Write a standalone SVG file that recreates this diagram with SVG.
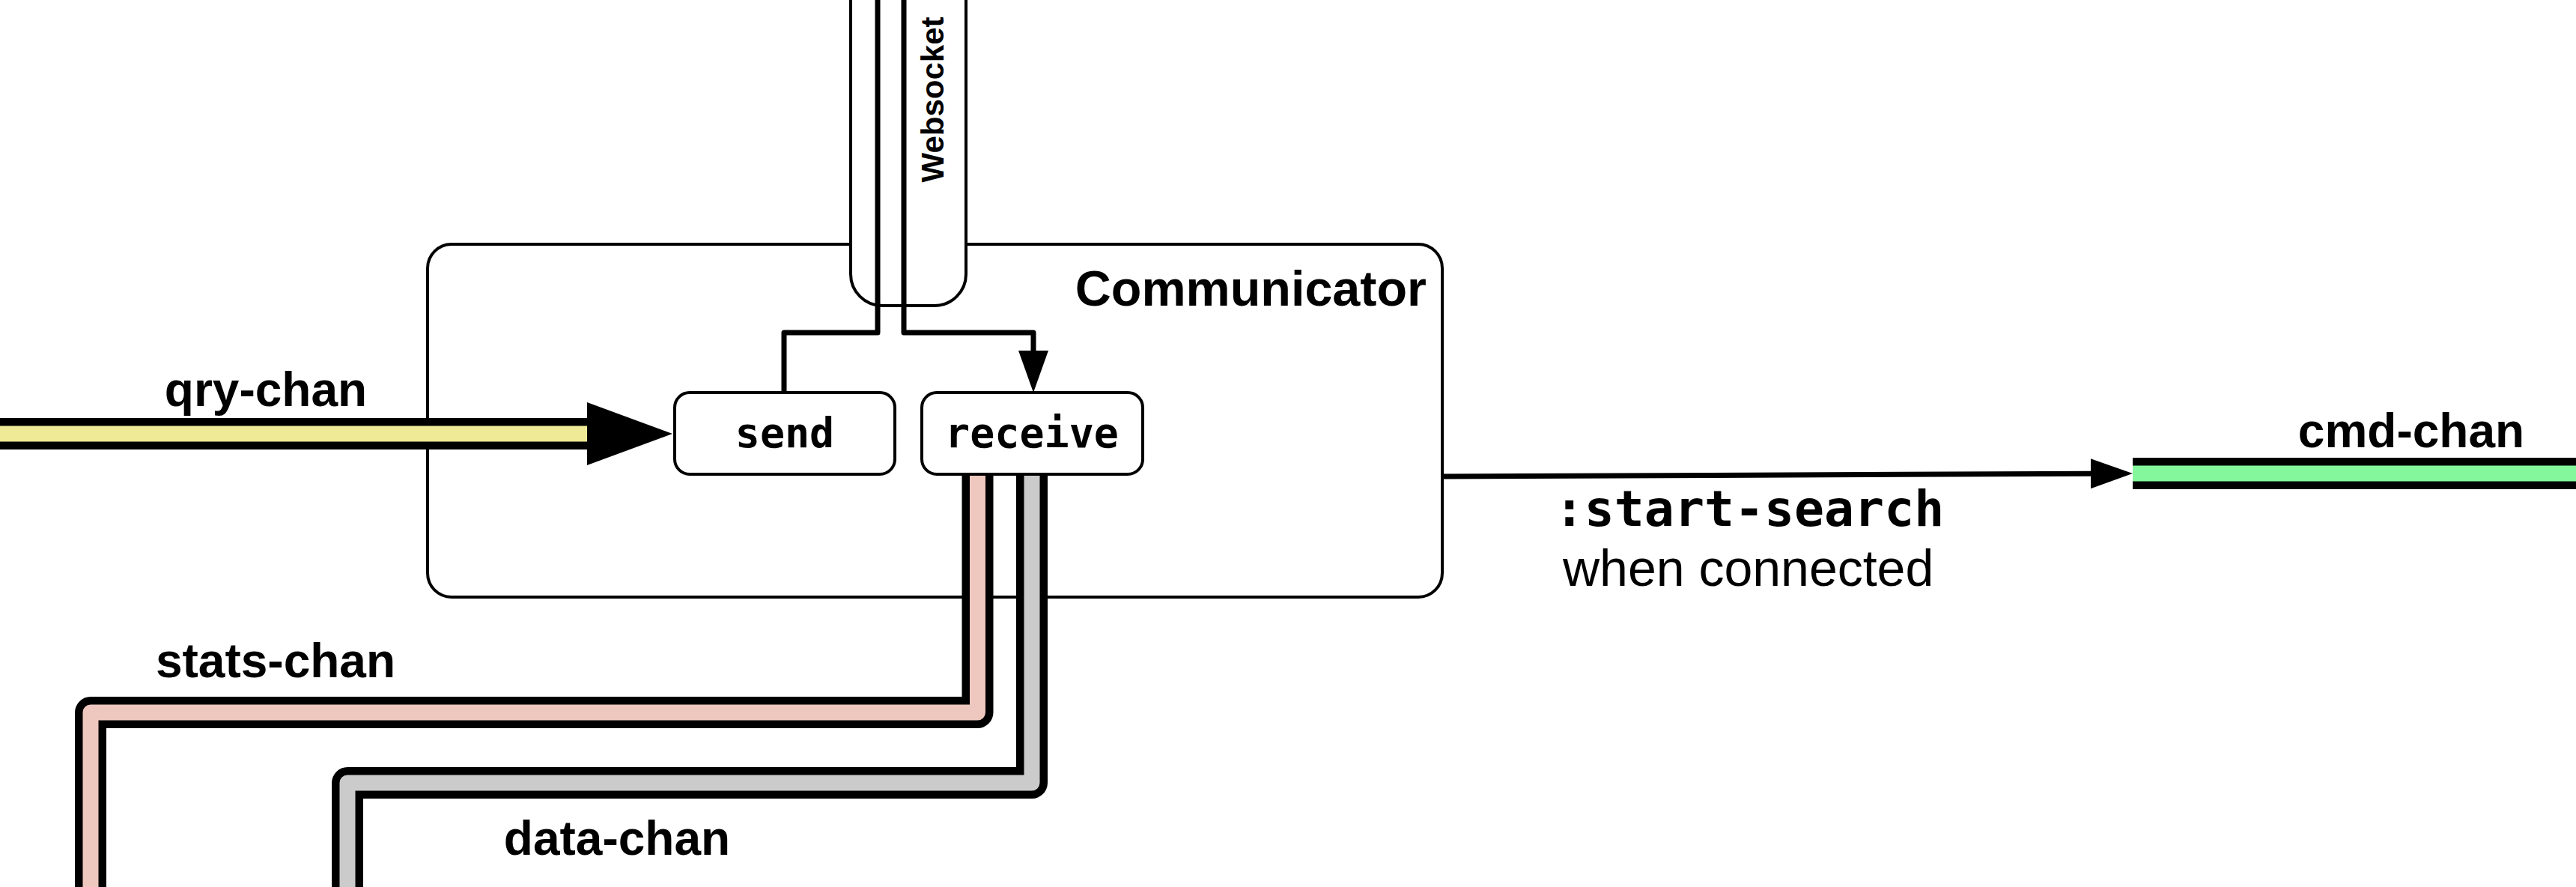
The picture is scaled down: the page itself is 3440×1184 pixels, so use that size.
<svg xmlns="http://www.w3.org/2000/svg" width="3440" height="1184" viewBox="0 0 3440 1184">
  <style>
    .box { fill: #ffffff; stroke: #000000; stroke-width: 4; }
    .lbl { font-family: "Liberation Sans", Arial, Helvetica, sans-serif; font-weight: bold; font-size: 64px; fill: #000000; }
    .reg { font-family: "Liberation Sans", Arial, Helvetica, sans-serif; font-weight: normal; font-size: 68px; fill: #000000; }
    .mono { font-family: "DejaVu Sans Mono", "Liberation Mono", monospace; font-weight: bold; fill: #000000; }
    .wire { fill: none; stroke: #000000; stroke-width: 7; stroke-linejoin: round; }
    .chanOuter { fill: none; stroke: #000000; stroke-width: 42; stroke-linejoin: round; }
    .chanInner { fill: none; stroke-width: 21; stroke-linejoin: round; }
  </style>
  <defs>
    <marker id="arrow" viewBox="0 0 56 40" refX="0" refY="20" markerWidth="56" markerHeight="40" markerUnits="userSpaceOnUse" orient="auto">
      <path d="M0,0 L56,20 L0,40 Z" fill="#000000"/>
    </marker>
  </defs>
  <rect width="3440" height="1184" fill="#ffffff"/>

  <g id="communicator">
    <rect class="box" x="571" y="326" width="1355" height="471" rx="32" ry="32"/>
    <text class="lbl" style="font-size:66.5px" x="1905" y="408" text-anchor="end">Communicator</text>
  </g>

  <g id="websocket">
    <rect class="box" x="1136" y="-60" width="154" height="468" rx="42" ry="42"/>
    <text class="lbl" style="font-size:42px" transform="translate(1260,133) rotate(-90)" text-anchor="middle">Websocket</text>
  </g>

  <g id="connectors">
    <!-- websocket wires -->
    <path class="wire" d="M1172,0 V444 H1047 V524"/>
    <path class="wire" d="M1207,0 V444 H1380 V468" marker-end="url(#arrow)"/>

    <!-- qry-chan -->
    <g id="qry-chan">
      <path class="chanOuter" d="M0,579 H786"/>
      <path class="chanInner" stroke="#EEEA95" d="M0,579 H786"/>
      <path d="M784,537 L898,579 L784,621 Z" fill="#000000"/>
      <text class="lbl" x="355" y="542" text-anchor="middle">qry-chan</text>
    </g>

    <!-- stats-chan -->
    <g id="stats-chan">
      <path class="chanOuter" d="M1305.5,634 V951 H121 V1200"/>
      <path class="chanInner" stroke="#EEC7BF" d="M1305.5,634 V951 H121 V1200"/>
      <text class="lbl" x="368" y="904" text-anchor="middle">stats-chan</text>
    </g>

    <!-- data-chan -->
    <g id="data-chan">
      <path class="chanOuter" d="M1378,634 V1045 H464 V1200"/>
      <path class="chanInner" stroke="#CBCBCB" d="M1378,634 V1045 H464 V1200"/>
      <text class="lbl" x="824" y="1141" text-anchor="middle">data-chan</text>
    </g>

    <!-- start-search to cmd-chan -->
    <g id="start-search">
      <path class="wire" d="M1926,636 L2792,632.2" marker-end="url(#arrow)"/>
      <text class="mono" style="font-size:66.5px" x="2336" y="702" text-anchor="middle">:start-search</text>
      <text class="reg" x="2087" y="782">when connected</text>
    </g>

    <!-- cmd-chan -->
    <g id="cmd-chan">
      <path class="chanOuter" d="M2848,632 H3440"/>
      <path class="chanInner" stroke="#84F79C" d="M2848,632 H3440"/>
      <text class="lbl" x="3220" y="597" text-anchor="middle">cmd-chan</text>
    </g>
  </g>

  <g id="send">
    <rect class="box" x="901" y="524" width="294" height="109" rx="20" ry="20"/>
    <text class="mono" style="font-size:55px" x="1048" y="597" text-anchor="middle">send</text>
  </g>

  <g id="receive">
    <rect class="box" x="1231" y="524" width="295" height="109" rx="20" ry="20"/>
    <text class="mono" style="font-size:55px" x="1378" y="597" text-anchor="middle">receive</text>
  </g>
</svg>
